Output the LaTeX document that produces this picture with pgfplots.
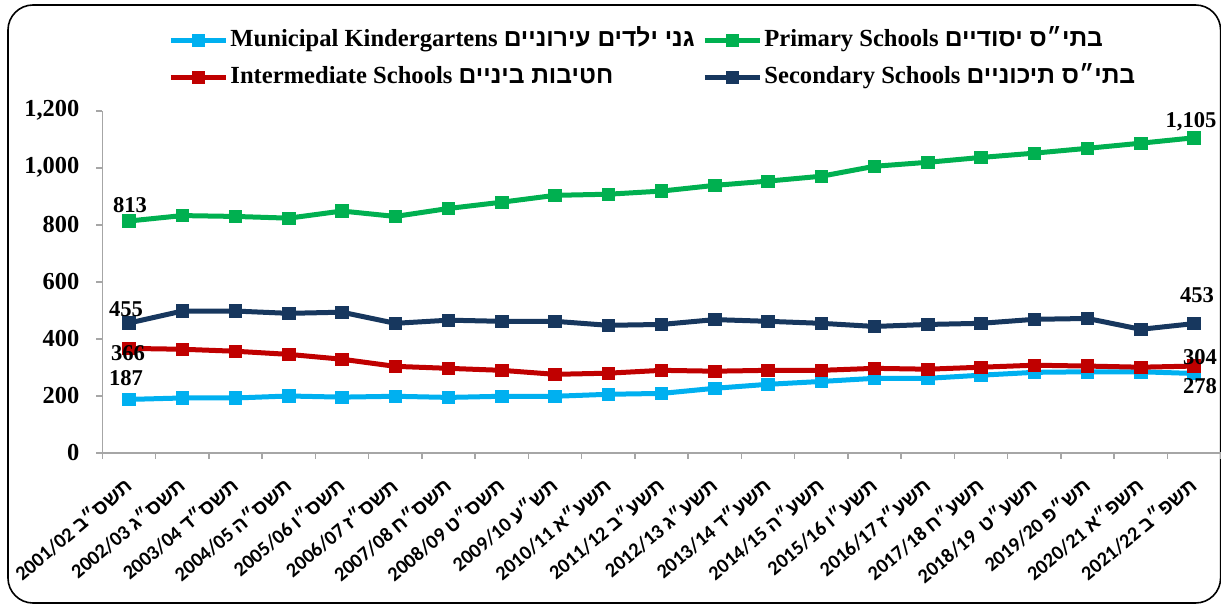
\documentclass[border=0pt]{standalone}
\usepackage{pgfplots}
\pgfplotsset{compat=1.18}
\usepackage{pgfplotstable}
\usepackage{fontspec}
\setmainfont{Liberation Serif}
\newfontfamily\hebfont[Script=Hebrew]{Liberation Sans}
\newfontfamily\calfont{Carlito}
\TeXXeTstate=1

\definecolor{kgblue}{HTML}{00B0F0}
\definecolor{prgreen}{HTML}{00B050}
\definecolor{imred}{HTML}{C00000}
\definecolor{scnavy}{HTML}{17375E}
\definecolor{axgray}{HTML}{A6A6A6}

\newcommand{\heb}[1]{{\hebfont\bfseries\beginR#1\endR}}

\pgfplotsset{
  lbls/.style={
    point meta=explicit symbolic,
    nodes near coords,
    visualization depends on={\thisrow{lx} \as \lx},
    visualization depends on={\thisrow{ly} \as \ly},
    nodes near coords style={anchor=center, xshift=\lx pt, yshift=\ly pt, text=black,
      font=\fontsize{11.3}{13}\selectfont\bfseries},
  },
}

% x = school year index, y = value, lbl = data label, lx/ly = label offset (pt)
\pgfplotstableread{
x y lbl lx ly
0 187 187 -1.5 10.5
1 192 {} 0 0
2 192 {} 0 0
3 199 {} 0 0
4 195 {} 0 0
5 198 {} 0 0
6 194 {} 0 0
7 198 {} 0 0
8 198 {} 0 0
9 205 {} 0 0
10 208 {} 0 0
11 226 {} 0 0
12 240 {} 0 0
13 250 {} 0 0
14 261 {} 0 0
15 261 {} 0 0
16 272 {} 0 0
17 282 {} 0 0
18 284 {} 0 0
19 284 {} 0 0
20 278 278 3 -6.25
}\kgdata

\pgfplotstableread{
x y lbl lx ly
0 813 813 0.5 8
1 832 {} 0 0
2 829 {} 0 0
3 823 {} 0 0
4 848 {} 0 0
5 829 {} 0 0
6 857 {} 0 0
7 879 {} 0 0
8 903 {} 0 0
9 907 {} 0 0
10 918 {} 0 0
11 938 {} 0 0
12 953 {} 0 0
13 970 {} 0 0
14 1005 {} 0 0
15 1019 {} 0 0
16 1036 {} 0 0
17 1051 {} 0 0
18 1068 {} 0 0
19 1086 {} 0 0
20 1105 {1,105} -1.5 8
}\prdata

\pgfplotstableread{
x y lbl lx ly
0 366 366 -0.5 -2.5
1 363 {} 0 0
2 356 {} 0 0
3 345 {} 0 0
4 328 {} 0 0
5 303 {} 0 0
6 296 {} 0 0
7 289 {} 0 0
8 275 {} 0 0
9 279 {} 0 0
10 289 {} 0 0
11 286 {} 0 0
12 289 {} 0 0
13 289 {} 0 0
14 296 {} 0 0
15 293 {} 0 0
16 300 {} 0 0
17 307 {} 0 0
18 304 {} 0 0
19 300 {} 0 0
20 304 304 3 4.5
}\imdata

\pgfplotstableread{
x y lbl lx ly
0 455 455 -1.5 7
1 497 {} 0 0
2 497 {} 0 0
3 489 {} 0 0
4 493 {} 0 0
5 454 {} 0 0
6 465 {} 0 0
7 461 {} 0 0
8 461 {} 0 0
9 447 {} 0 0
10 450 {} 0 0
11 467 {} 0 0
12 461 {} 0 0
13 454 {} 0 0
14 443 {} 0 0
15 450 {} 0 0
16 454 {} 0 0
17 468 {} 0 0
18 471 {} 0 0
19 433 {} 0 0
20 453 453 1.5 14
}\scdata

\begin{document}
\begin{tikzpicture}
\useasboundingbox (0,0) rectangle (610.5pt,303.5pt);
\draw[black, line width=0.8pt, rounded corners=12.5pt] (4pt,2pt) rectangle (610.3pt,301pt);
\begin{axis}[
  at={(51.2pt,77.15pt)}, anchor=south west,
  scale only axis, width=559.1pt, height=171pt,
  xmin=-0.5, xmax=20.5, ymin=0, ymax=1200,
  clip=false,
  axis x line*=bottom, axis y line*=left,
  axis line style={draw=axgray, line width=0.9pt},
  tick align=outside,
  major tick length=3pt, minor tick length=3pt,
  tick style={draw=axgray, line width=0.8pt},
  xtick={0,...,20},
  minor xtick={-0.5,0.5,...,20.5},
  major x tick style={draw=none},
  ytick={0,200,...,1200},
  scaled y ticks=false,
  /pgf/number format/assume math mode=true,
  yticklabel style={font=\fontsize{12.2}{14}\selectfont\bfseries, xshift=-5pt},
  xticklabel style={font=\calfont\bfseries\fontsize{10.1}{12}\selectfont, xshift=-3pt, yshift=-7pt, rotate=40, anchor=north east, inner sep=1pt},
  xticklabels={
    {2001/02 \heb{תשס״ב}},
    {2002/03 \heb{תשס״ג}},
    {2003/04 \heb{תשס״ד}},
    {2004/05 \heb{תשס״ה}},
    {2005/06 \heb{תשס״ו}},
    {2006/07 \heb{תשס״ז}},
    {2007/08 \heb{תשס״ח}},
    {2008/09 \heb{תשס״ט}},
    {2009/10 \heb{תש״ע}},
    {2010/11 \heb{תשע״א}},
    {2011/12 \heb{תשע״ב}},
    {2012/13 \heb{תשע״ג}},
    {2013/14 \heb{תשע״ד}},
    {2014/15 \heb{תשע״ה}},
    {2015/16 \heb{תשע״ו}},
    {2016/17 \heb{תשע״ז}},
    {2017/18 \heb{תשע״ח}},
    {2018/19\ \ \heb{תשע״ט}},
    {2019/20 \heb{תש״פ}},
    {2020/21 \heb{תשפ״א}},
    {2021/22 \heb{תשפ״ב}}
  },
  every axis plot/.append style={line width=2.5pt, mark=square*, mark size=3.1pt, mark options={line width=0.4pt}},
  legend columns=2,
  legend cell align=left,
  legend style={at={(0.0587,1.2477)}, anchor=north west, draw=none, fill=none, inner sep=0pt,
    row sep=4.5pt, column sep=0pt, font=\fontsize{12.3}{14}\selectfont\bfseries,
    nodes={inner sep=1pt, text height=9pt, text depth=3pt}},
  legend image code/.code={\draw[#1, mark repeat=2, mark phase=2] plot coordinates {(0pt,0pt) (13.75pt,0pt) (27.5pt,0pt)};},
]
\addplot[color=kgblue, lbls] table[x=x, y=y, meta=lbl] {\kgdata};
\addlegendentry{\makebox[235pt][l]{Municipal Kindergartens \heb{גני ילדים עירוניים}}}
\addplot[color=prgreen, lbls] table[x=x, y=y, meta=lbl] {\prdata};
\addlegendentry{Primary Schools \heb{בתי״ס יסודיים}}
\addplot[color=imred, lbls] table[x=x, y=y, meta=lbl] {\imdata};
\addlegendentry{\makebox[235pt][l]{Intermediate Schools \heb{חטיבות ביניים}}}
\addplot[color=scnavy, lbls] table[x=x, y=y, meta=lbl] {\scdata};
\addlegendentry{Secondary Schools \heb{בתי״ס תיכוניים}}
\end{axis}
\end{tikzpicture}
\end{document}
